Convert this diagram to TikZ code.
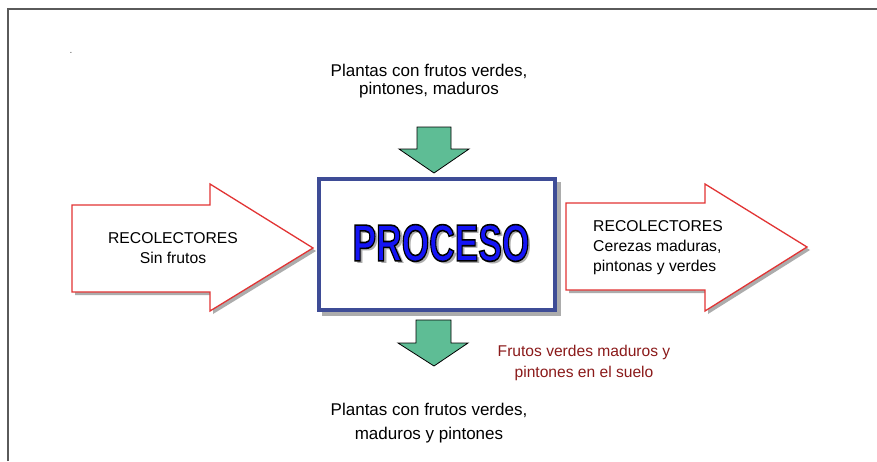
\documentclass[tikz,border=0pt]{standalone}
\usepackage{fontspec}
\setmainfont{Liberation Sans}
\definecolor{arrowred}{RGB}{226,52,52}
\definecolor{arrowgreen}{RGB}{94,189,149}
\definecolor{boxblue}{RGB}{62,76,150}
\definecolor{procblue}{RGB}{20,20,245}
\definecolor{darkred}{RGB}{139,26,26}
\definecolor{shadowgray}{RGB}{172,172,172}
\definecolor{framegray}{RGB}{90,90,90}
\tikzset{
  redarrow/.style={fill=white, draw=arrowred, line width=1.3pt, line join=miter},
  shadowfill/.style={fill=shadowgray, draw=none},
  greenarrow/.style={fill=arrowgreen, draw=black, line width=0.8pt, line join=miter},
  lbl/.style={font=\fontsize{17}{18}\selectfont, align=center, inner sep=0pt},
  boxlbl/.style={font=\fontsize{15.7}{20}\selectfont, inner sep=0pt},
  redlbl/.style={font=\fontsize{15.6}{21}\selectfont, align=center, inner sep=0pt, text=darkred},
  proc/.style={font=\bfseries\fontsize{52}{52}\selectfont, inner sep=0pt},
}
\newcommand{\proctext}{\scalebox{0.68}[1]{PROCESO}}
\newcommand{\outlinedproc}{\special{pdf:literal direct 2 Tr 1.6 w 0 0 0 RG}\proctext\special{pdf:literal direct 0 Tr}}
\begin{document}
\begin{tikzpicture}[x=1pt,y=-1pt]
\useasboundingbox (0,0) rectangle (877,461);
\fill[white] (0,0) rectangle (877,461);
% frame
\draw[framegray, line width=1.6pt] (8,461) -- (8,9) -- (877,9);
\node[anchor=base, font=\fontsize{10}{10}\selectfont, text=framegray, inner sep=0pt] (dot) at (71,53) {.};

% left arrow
\fill[shadowfill] (75,208) -- (213,208) -- (213,187) -- (316,251) -- (213,314) -- (213,295) -- (75,295) -- cycle;
\draw[redarrow] (72,205) -- (210,205) -- (210,184) -- (313,248) -- (210,311) -- (210,292) -- (72,292) -- cycle;
\node[boxlbl, align=center] (lefttext) at (173,248) {RECOLECTORES\\Sin frutos};

% right arrow
\fill[shadowfill] (569,206) -- (708,206) -- (708,187) -- (810,250) -- (708,314) -- (708,293) -- (569,293) -- cycle;
\draw[redarrow] (566,203) -- (705,203) -- (705,184) -- (807,247) -- (705,311) -- (705,290) -- (566,290) -- cycle;
\node[boxlbl, align=left, anchor=west] (righttext) at (593,248) {RECOLECTORES\\Cerezas maduras,\\pintonas y verdes};

% process box
\fill[shadowfill] (322,182) rectangle (561,316);
\node[draw=boxblue, line width=4pt, fill=white, minimum width=236pt, minimum height=131pt, inner sep=0pt] (box) at (437,244.5) {};
\node[proc, text=shadowgray] (procshadow) at (444,246) {\proctext};
\node[proc, text=procblue] (proctitle) at (441,243) {\outlinedproc};

% top green arrow
\draw[greenarrow] (417,127) -- (451,127) -- (451,149) -- (469,149) -- (434,173) -- (399,149) -- (417,149) -- cycle;
\node[lbl] (toptext) at (429,81) {Plantas con frutos verdes,\\pintones, maduros};

% bottom green arrow
\draw[greenarrow] (416,320) -- (451,320) -- (451,343) -- (468,343) -- (434,366) -- (398,343) -- (416,343) -- cycle;
\node[redlbl] (redtext) at (584,363) {Frutos verdes maduros y\\pintones en el suelo};
\node[lbl, font=\fontsize{17}{24}\selectfont] (bottomtext) at (429,423) {Plantas con frutos verdes,\\maduros y pintones};
\end{tikzpicture}
\end{document}
